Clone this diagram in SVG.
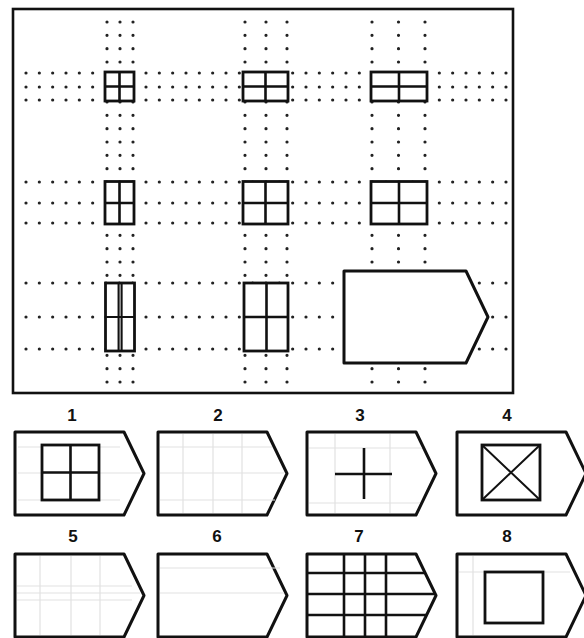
<svg xmlns="http://www.w3.org/2000/svg" width="584" height="638" viewBox="0 0 584 638">
<style>
.frame{fill:none;stroke:#111;stroke-width:2.6}
.dots{fill:none;stroke:#222;stroke-width:3.2;stroke-linecap:round;stroke-dasharray:0 13.333}
.win{fill:#fff;stroke:#111;stroke-width:2.8}
.wl{fill:none;stroke:#111;stroke-width:2.6}
.tag{fill:#fff;stroke:#111;stroke-width:3;stroke-linejoin:round}
.ln{fill:none;stroke:#111;stroke-width:2.6}
.f{fill:none;stroke:#e2e2e2;stroke-width:1.2}
.num{font-family:"Liberation Sans",Arial,sans-serif;font-weight:bold;font-size:17px;fill:#111;text-anchor:middle}
</style>
<defs>
<path id="tagshape" d="M0,0 H109 L129,41.5 L109,83 H0 Z"/>
</defs>
<rect width="584" height="638" fill="#fff"/>

<g id="matrix">
<rect class="frame" x="13" y="9" width="500" height="384"/>
<g id="dotlines">
<line class="dots" x1="26" y1="73" x2="506" y2="73"/>
<line class="dots" x1="26" y1="87" x2="506" y2="87"/>
<line class="dots" x1="26" y1="100" x2="506" y2="100"/>
<line class="dots" x1="26" y1="182" x2="506" y2="182"/>
<line class="dots" x1="26" y1="203" x2="506" y2="203"/>
<line class="dots" x1="26" y1="223" x2="506" y2="223"/>
<line class="dots" x1="26" y1="283" x2="506" y2="283"/>
<line class="dots" x1="26" y1="317" x2="506" y2="317"/>
<line class="dots" x1="26" y1="349" x2="506" y2="349"/>
<line class="dots" x1="107" y1="22" x2="107" y2="382"/>
<line class="dots" x1="120" y1="22" x2="120" y2="382"/>
<line class="dots" x1="133" y1="22" x2="133" y2="382"/>
<line class="dots" x1="245" y1="22" x2="245" y2="382"/>
<line class="dots" x1="266" y1="22" x2="266" y2="382"/>
<line class="dots" x1="287" y1="22" x2="287" y2="382"/>
<line class="dots" x1="372" y1="22" x2="372" y2="382"/>
<line class="dots" x1="398.5" y1="22" x2="398.5" y2="382"/>
<line class="dots" x1="425" y1="22" x2="425" y2="382"/>
</g>

<g id="cell-1-1">
<rect class="win" x="105" y="72" width="29" height="29"/>
<path class="wl" d="M119.5,72 V101 M105,86.5 H134"/>
</g>
<g id="cell-1-2">
<rect class="win" x="243" y="72" width="45" height="29"/>
<path class="wl" d="M265.5,72 V101 M243,86.5 H288"/>
</g>
<g id="cell-1-3">
<rect class="win" x="371" y="72" width="56" height="29"/>
<path class="wl" d="M399,72 V101 M371,86.5 H427"/>
</g>
<g id="cell-2-1">
<rect class="win" x="105" y="181.5" width="29" height="42.5"/>
<path class="wl" d="M119.5,181.5 V224 M105,203 H134"/>
</g>
<g id="cell-2-2">
<rect class="win" x="243" y="181.5" width="45" height="42.5"/>
<path class="wl" d="M265.5,181.5 V224 M243,203 H288"/>
</g>
<g id="cell-2-3">
<rect class="win" x="371" y="181.5" width="56" height="42.5"/>
<path class="wl" d="M399,181.5 V224 M371,203 H427"/>
</g>
<g id="cell-3-1">
<rect class="win" x="105.5" y="283" width="29" height="68"/>
<path class="wl" d="M118.6,283 V351 M121.6,283 V351 M105.5,317 H134.5" style="stroke-width:2.1"/>
</g>
<g id="cell-3-2">
<rect class="win" x="244" y="283" width="44" height="68"/>
<path class="wl" d="M266.5,283 V351 M244,317 H288"/>
</g>
<g id="cell-3-3">
<path class="tag" d="M344,271 H466 L488,317 L466,363 H344 Z"/>
</g>
</g>

<g id="opt1">
<text class="num" x="72" y="421">1</text>
<use href="#tagshape" class="tag" x="15" y="432"/>
<path class="f" d="M18,473 H140 M18,447 H120 M18,500 H120"/>
<rect class="win" x="42" y="445" width="57" height="55"/>
<path class="wl" d="M70.5,445 V500 M42,472.5 H99"/>
</g>
<g id="opt2">
<text class="num" x="218" y="421">2</text>
<use href="#tagshape" class="tag" x="158" y="432"/>
<path class="f" d="M183,434 V513 M213,434 V513 M242,434 V513 M160,447 H272 M160,473 H284 M160,500 H275"/>
</g>
<g id="opt3">
<text class="num" x="360" y="421">3</text>
<use href="#tagshape" class="tag" x="307" y="432"/>
<path class="f" d="M335,434 V513 M390,434 V513 M309,448 H422 M309,503 H420"/>
<path class="ln" d="M335,474 H392 M364,448 V499"/>
</g>
<g id="opt4">
<text class="num" x="507" y="421">4</text>
<use href="#tagshape" class="tag" x="457" y="432"/>
<rect class="win" x="482" y="445" width="58" height="55"/>
<path class="ln" d="M482,445 L540,500 M540,445 L482,500" style="stroke-width:2"/>
</g>

<g id="opt5">
<text class="num" x="73" y="542">5</text>
<use href="#tagshape" class="tag" x="15" y="554"/>
<path class="f" d="M40,556 V635 M71,556 V635 M100,556 V635 M17,586 H132 M17,593 H140 M17,600 H132"/>
</g>
<g id="opt6">
<text class="num" x="217" y="542">6</text>
<use href="#tagshape" class="tag" x="158" y="554"/>
<path class="f" d="M160,568 H280 M160,593 H284"/>
</g>
<g id="opt7">
<text class="num" x="359" y="542">7</text>
<use href="#tagshape" class="tag" x="307" y="554"/>
<path class="ln" d="M344,554 V637 M365,554 V637 M386,554 V637 M307,573 H425.6 M307,594 H435.8 M307,615 H426.6"/>
</g>
<g id="opt8">
<text class="num" x="507" y="542">8</text>
<use href="#tagshape" class="tag" x="457" y="554"/>
<path class="f" d="M459,572 H570 M473,556 V635"/>
<rect class="win" x="485" y="572" width="58" height="51"/>
</g>
</svg>
